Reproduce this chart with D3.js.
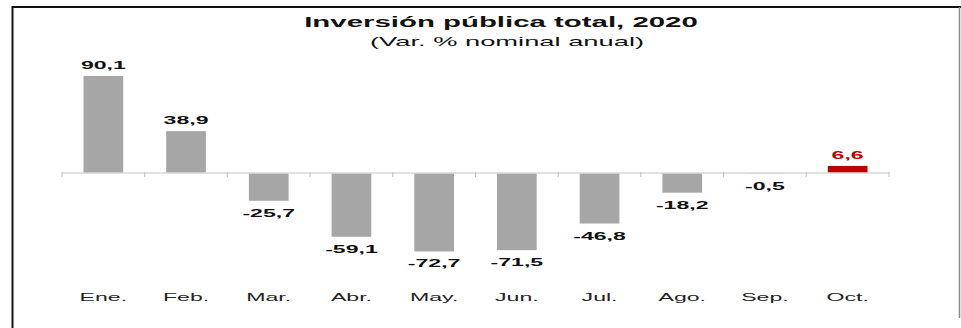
<!DOCTYPE html>
<html>
<head>
<meta charset="utf-8">
<script src="https://cdn.jsdelivr.net/npm/d3@7"></script>
<style>
  html, body { margin: 0; padding: 0; background: #fff; }
  svg { display: block; font-family: "Liberation Sans", Arial, sans-serif; }
</style>
</head>
<body>
<svg id="chart" width="961" height="328"></svg>
<script>
// Monthly public investment growth, 2020 (nominal annual % change)
const months = ["Ene.", "Feb.", "Mar.", "Abr.", "May.", "Jun.", "Jul.", "Ago.", "Sep.", "Oct."];
const values = [90.1, 38.9, -25.7, -59.1, -72.7, -71.5, -46.8, -18.2, -0.5, 6.6];
const highlightMonth = "Oct.";
const title = "Inversión pública total, 2020";
const subtitle = "(Var. % nominal anual)";

const W = 961, H = 328;
const stretch = 2.1;   // wide lettering used throughout the chart

const svg = d3.select("#chart");

// frame
svg.append("line").attr("x1", 12.5).attr("x2", 12.5).attr("y1", 6).attr("y2", H)
  .attr("stroke", "#111").attr("stroke-width", 2);
svg.append("line").attr("x1", 12).attr("x2", W).attr("y1", 7).attr("y2", 7)
  .attr("stroke", "#111").attr("stroke-width", 2);
svg.append("line").attr("x1", 959.5).attr("x2", 959.5).attr("y1", 7).attr("y2", 318)
  .attr("stroke", "#8a8a8a").attr("stroke-width", 1.5);

const x = d3.scaleBand().domain(months).range([62, 889])
  .paddingInner(0.52).paddingOuter(0.26);
const y = d3.scaleLinear().domain([-80, 100]).range([259.3, 65.3]);

// Spanish-style number format with a plain hyphen for negatives
const fmt = d3.formatLocale({ decimal: ",", thousands: ".", grouping: [3], currency: ["", ""], minus: "-" }).format(".1f");

// wide text helper
function wideText(sel, tx, ty, str, opts) {
  const g = sel.append("g").attr("transform", `translate(${tx},${ty}) scale(${stretch},1)`);
  g.append("text")
    .attr("text-anchor", "middle")
    .attr("font-size", opts.size)
    .attr("font-weight", opts.weight || "normal")
    .attr("fill", opts.fill || "#111")
    .text(str);
  return g;
}

// title
wideText(svg, 501, 27, title, { size: 14, weight: "bold" });
wideText(svg, 507, 46, subtitle, { size: 13 });

// bars
svg.append("g").selectAll("rect").data(months).join("rect")
  .attr("x", d => x(d))
  .attr("width", x.bandwidth())
  .attr("y", (d, i) => Math.min(y(values[i]), y(0)))
  .attr("height", (d, i) => Math.abs(y(values[i]) - y(0)))
  .attr("fill", d => d === highlightMonth ? "#c00000" : "#a6a6a6");

// zero axis with tick marks at band boundaries
const axisG = svg.append("g").attr("transform", `translate(0,${y(0)})`);
axisG.append("line").attr("x1", 62).attr("x2", 889).attr("y1", 0).attr("y2", 0)
  .attr("stroke", "#d9d9d9").attr("stroke-width", 1.5);
const bounds = months.map(m => x(m) - x.step() * x.paddingInner() / 2);
bounds.push(889);
bounds[0] = 62;
axisG.selectAll("line.tick").data(bounds).join("line").attr("class", "tick")
  .attr("x1", d => d).attr("x2", d => d).attr("y1", -1).attr("y2", 4)
  .attr("stroke", "#bdbdbd").attr("stroke-width", 1);

// value labels
months.forEach((m, i) => {
  const v = values[i];
  const cx = x(m) + x.bandwidth() / 2;
  const ty = v >= 0 ? y(v) - 7 : y(v) + 16;
  wideText(svg, cx, ty, fmt(v), {
    size: 11, weight: "bold", fill: m === highlightMonth ? "#c00000" : "#111"
  });
});

// month labels
months.forEach(m => {
  wideText(svg, x(m) + x.bandwidth() / 2, 301, m, { size: 11, fill: "#222" });
});
</script>
</body>
</html>
